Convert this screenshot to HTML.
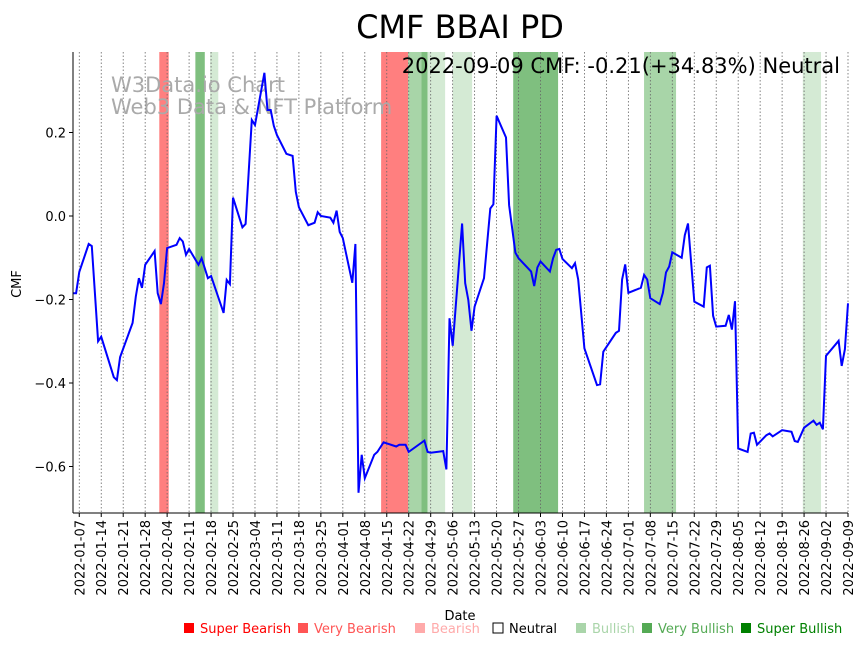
<!DOCTYPE html>
<html><head><meta charset="utf-8"><style>
body{margin:0;background:#fff;font-family:"Liberation Sans","DejaVu Sans",sans-serif}
</style></head><body>
<svg id="chart" width="864" height="646" xmlns="http://www.w3.org/2000/svg" font-family="DejaVu Sans, Liberation Sans, sans-serif">
<text x="460" y="38" font-size="32" text-anchor="middle">CMF BBAI PD</text>
<g id="bands"></g>
<g id="grid"></g>
<text x="111" y="92" font-size="21" fill="#aaa">W3Data.io Chart</text>
<text x="111" y="114" font-size="21" fill="#aaa">Web3 Data &amp; NFT Platform</text>
<text x="840" y="73" font-size="21" text-anchor="end">2022-09-09 CMF: -0.21(+34.83%) Neutral</text>
<path id="line" fill="none" stroke="#0000ff" stroke-width="2"/>
<g id="axes"></g>
<text transform="translate(21,284) rotate(-90)" font-size="13" text-anchor="middle">CMF</text>
<text x="460" y="620" font-size="13" text-anchor="middle">Date</text>
<g id="legend" font-size="13"></g>
</svg>
<script>
const days=[-2,-1,0,3,4,6,7,11,12,13,17,18,19,20,21,24,25,26,27,28,31,32,33,34,35,38,39,41,42,46,47,48,49,52,53,55,56,59,60,61,62,63,66,68,69,70,73,75,76,77,80,81,82,83,84,87,88,89,90,91,94,95,97,101,102,104,105,110,111,112,116,117,118,119,122,123,124,125,126,129,131,132,133,136,137,139,140,144,145,146,147,150,151,152,153,154,157,158,159,161,165,166,167,171,172,173,174,175,179,180,181,182,185,186,187,188,189,192,193,194,196,199,200,201,202,203,206,207,208,209,210,213,214,215,216,219,220,221,224,227,228,229,231,234,235,236,237,238,242,243,244,245];
const cmf=[-0.185,-0.185,-0.134,-0.067,-0.072,-0.30,-0.289,-0.386,-0.393,-0.338,-0.256,-0.193,-0.149,-0.172,-0.117,-0.084,-0.185,-0.211,-0.161,-0.077,-0.069,-0.053,-0.061,-0.093,-0.079,-0.117,-0.101,-0.149,-0.144,-0.232,-0.153,-0.163,0.044,-0.027,-0.019,0.230,0.218,0.343,0.254,0.254,0.216,0.194,0.149,0.144,0.058,0.021,-0.022,-0.016,0.009,0.000,-0.004,-0.016,0.013,-0.038,-0.053,-0.160,-0.067,-0.663,-0.572,-0.628,-0.572,-0.565,-0.542,-0.552,-0.548,-0.548,-0.565,-0.538,-0.565,-0.567,-0.563,-0.607,-0.245,-0.311,-0.018,-0.161,-0.201,-0.275,-0.217,-0.149,0.018,0.028,0.240,0.188,0.026,-0.088,-0.101,-0.133,-0.168,-0.123,-0.109,-0.133,-0.101,-0.081,-0.079,-0.103,-0.125,-0.113,-0.152,-0.317,-0.405,-0.403,-0.325,-0.280,-0.275,-0.152,-0.116,-0.184,-0.172,-0.141,-0.152,-0.197,-0.211,-0.184,-0.135,-0.121,-0.087,-0.100,-0.046,-0.018,-0.205,-0.217,-0.123,-0.119,-0.239,-0.265,-0.263,-0.237,-0.272,-0.204,-0.557,-0.565,-0.521,-0.519,-0.548,-0.525,-0.521,-0.528,-0.513,-0.517,-0.539,-0.541,-0.507,-0.490,-0.500,-0.495,-0.511,-0.335,-0.299,-0.359,-0.319,-0.209];
const bandStart=[25.5,37,41.7,96.2,104.8,109,111,119,138.3,180,230.6];
const bandEnd=[28.5,40,44.3,104.8,109,111,116.6,125.2,152.6,190.2,236.4];
const bandColor=["#ff7f7f","#7fbf7f","#d4ead4","#ff7f7f","#a8d5a8","#7fbf7f","#d4ead4","#d4ead4","#7fbf7f","#a8d5a8","#d4ead4"];
const yTicks=[-0.6,-0.4,-0.2,0.0,0.2];
const legendLabels=["Super Bearish","Very Bearish","Bearish","Neutral","Bullish","Very Bullish","Super Bullish"];
const legendColors=["#ff0000","#ff5555","#ffaaaa","#ffffff","#aad5aa","#55aa55","#008000"];
const legendX=[184,298,415,493,576,642,741];

const L=73,R=848,T=52,B=513;
const xs=d=>L+(d+2)*(R-L)/247;
const ys=v=>216-v*417.5;
const NS="http://www.w3.org/2000/svg";
function mk(tag,attrs,parent){const e=document.createElementNS(NS,tag);for(const k in attrs)e.setAttribute(k,attrs[k]);parent.appendChild(e);return e;}
const bands=document.getElementById('bands');
for(let i=0;i<bandStart.length;i++){
 const r=mk('rect',{x:xs(bandStart[i]),y:T,width:xs(bandEnd[i])-xs(bandStart[i]),height:B-T,fill:bandColor[i]},bands);
 
 
}
const grid=document.getElementById('grid'),axes=document.getElementById('axes');
const base=Date.UTC(2022,0,7);
for(let d=0;d<=245;d+=7){
 const x=xs(d);
 const g=mk('line',{x1:x,x2:x,y1:T,y2:B,stroke:'#666','stroke-width':0.8,'stroke-dasharray':'1.5,2'},grid);
 
 
 mk('line',{x1:x,x2:x,y1:B,y2:B+4,stroke:'#000'},axes);
 const dt=new Date(base+d*86400000).toISOString().slice(0,10);
 const t=mk('text',{transform:`translate(${x+5},${B+7}) rotate(-90)`,'font-size':13,'text-anchor':'end'},axes);
 t.textContent=dt;
 
 
}
for(const v of yTicks){
 const y=ys(v);
 mk('line',{x1:L-4,x2:L,y1:y,y2:y,stroke:'#000'},axes);
 const t=mk('text',{x:L-7,y:y+5,'font-size':13,'text-anchor':'end'},axes);
 t.textContent=v.toFixed(1).replace('-','\u2212');
 
 
}
mk('line',{x1:L,x2:L,y1:T,y2:B,stroke:'#000','stroke-width':1},axes);
mk('line',{x1:L,x2:R,y1:B,y2:B,stroke:'#000','stroke-width':1},axes);
document.getElementById('line').setAttribute('d',days.map((d,i)=>(i?'L':'M')+xs(d).toFixed(1)+','+ys(cmf[i]).toFixed(1)).join(''));
const leg=document.getElementById('legend');
for(let i=0;i<legendLabels.length;i++){
 const r=mk('rect',{x:legendX[i],y:623,width:10,height:10,fill:legendColors[i],stroke:i==3?'#000':'none'},leg);
 
 
 const t=mk('text',{x:legendX[i]+16,y:633,fill:i==3?'#000':legendColors[i]},leg);
 t.textContent=legendLabels[i];
 
 
}
</script>
</body></html>
